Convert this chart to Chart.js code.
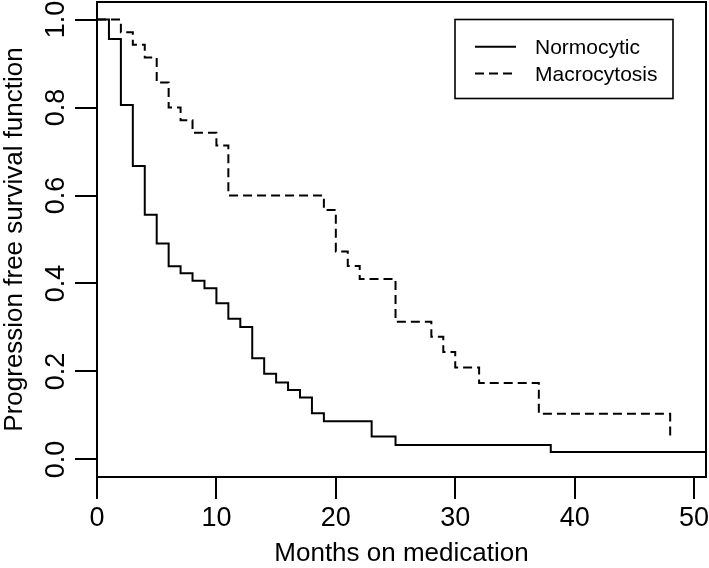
<!DOCTYPE html>
<html>
<head>
<meta charset="utf-8">
<script src="https://cdn.jsdelivr.net/npm/chart.js@4.4.1/dist/chart.umd.min.js"></script>
<style>
  html, body { margin: 0; padding: 0; background: #ffffff; }
  #wrap { width: 709px; height: 568px; position: relative; }
</style>
</head>
<body>
<div id="wrap"><canvas id="c" width="709" height="568"></canvas></div>
<script>
// Kaplan-Meier step data
const normTimes = [0, 1, 2, 3, 4, 5, 6, 7, 8, 9, 10, 11, 12, 13, 14, 15, 16, 17, 18, 19, 23, 25, 38, 51];
const normSurv  = [1, 0.956, 0.806, 0.667, 0.556, 0.491, 0.439, 0.423, 0.406, 0.389, 0.355, 0.32, 0.301, 0.23, 0.195, 0.175, 0.158, 0.141, 0.105, 0.087, 0.052, 0.033, 0.017, 0.017];
const macroTimes = [0, 2, 3, 4, 5, 6, 7, 8, 10, 11, 19, 20, 21, 22, 25, 28, 29, 30, 32, 37, 48];
const macroSurv  = [1, 0.971, 0.943, 0.914, 0.857, 0.8, 0.771, 0.743, 0.714, 0.6, 0.567, 0.473, 0.44, 0.41, 0.313, 0.279, 0.244, 0.209, 0.174, 0.104, 0.052];
const seriesLabels = ['Normocytic', 'Macrocytosis'];
const xTitle = 'Months on medication';
const yTitle = 'Progression free survival function';

const FONT = "'Liberation Sans', Arial, Helvetica, sans-serif";
const DASH = [9, 5];

function toPoints(xs, ys) { return xs.map((x, i) => ({ x: x, y: ys[i] })); }

const boxPlugin = {
  id: 'boxPlugin',
  afterDraw(chart) {
    const { ctx, chartArea: a } = chart;
    ctx.save();
    ctx.strokeStyle = '#000';
    ctx.lineWidth = 2;
    ctx.strokeRect(a.left, a.top, a.right - a.left, a.bottom - a.top);
    // legend box
    const lx = 455, ly = 19.5, lw = 218, lh = 79;
    ctx.fillStyle = '#fff';
    ctx.fillRect(lx, ly, lw, lh);
    ctx.lineWidth = 1.6;
    ctx.strokeRect(lx, ly, lw, lh);
    const rows = [46.8, 73.5];
    chart.data.datasets.forEach((ds, i) => {
      ctx.beginPath();
      ctx.setLineDash(ds.borderDash || []);
      ctx.lineWidth = ds.borderWidth;
      ctx.strokeStyle = ds.borderColor;
      ctx.moveTo(475, rows[i]);
      ctx.lineTo(516, rows[i]);
      ctx.stroke();
      ctx.setLineDash([]);
      ctx.fillStyle = '#000';
      ctx.font = '21px ' + FONT;
      ctx.textBaseline = 'alphabetic';
      ctx.textAlign = 'left';
      ctx.fillText(ds.label, 535, rows[i] + 7.6);
    });
    ctx.restore();
  }
};

new Chart(document.getElementById('c'), {
  type: 'line',
  data: {
    datasets: [
      {
        label: seriesLabels[0],
        data: toPoints(normTimes, normSurv),
        borderColor: '#000',
        borderWidth: 2,
        pointRadius: 0,
        stepped: 'before',
        fill: false
      },
      {
        label: seriesLabels[1],
        data: toPoints(macroTimes, macroSurv),
        borderColor: '#000',
        borderWidth: 2,
        borderDash: DASH,
        pointRadius: 0,
        stepped: 'before',
        fill: false
      }
    ]
  },
  options: {
    responsive: false,
    animation: false,
    devicePixelRatio: 1,
    layout: { padding: { top: 2, right: 3, left: 0, bottom: 0 } },
    plugins: {
      legend: { display: false },
      tooltip: { enabled: false }
    },
    scales: {
      x: {
        type: 'linear',
        min: 0,
        max: 51,
        border: { display: false },
        grid: { display: true, drawOnChartArea: false, drawTicks: true, tickLength: 22, color: '#000', lineWidth: 2 },
        ticks: {
          stepSize: 10,
          includeBounds: false,
          color: '#000',
          padding: 3,
          maxRotation: 0,
          font: { family: FONT, size: 27, lineHeight: 1.2 },
          callback: (v) => String(v)
        },
        title: {
          display: true,
          text: xTitle,
          color: '#000',
          font: { family: FONT, size: 26, lineHeight: 1 },
          padding: { top: 0, bottom: 1 }
        },
        afterFit(scale) { scale.height = 91; scale.paddingLeft = 0; scale.paddingRight = 0; }
      },
      y: {
        type: 'linear',
        min: -0.04,
        max: 1.04,
        border: { display: false },
        grid: { display: true, drawOnChartArea: false, drawTicks: true, tickLength: 22, color: '#000', lineWidth: 2 },
        ticks: {
          stepSize: 0.2,
          includeBounds: false,
          color: '#000',
          padding: 0,
          minRotation: 90,
          maxRotation: 90,
          crossAlign: 'center',
          font: { family: FONT, size: 27, lineHeight: 1.2 },
          callback: (v) => Number(v).toFixed(1)
        },
        title: {
          display: true,
          text: yTitle,
          color: '#000',
          font: { family: FONT, size: 26, lineHeight: 1 },
          padding: { top: 2, bottom: 0 }
        },
        afterFit(scale) { scale.width = 97; scale.paddingTop = 0; scale.paddingBottom = 0; }
      }
    }
  },
  plugins: [boxPlugin]
});
</script>
</body>
</html>
